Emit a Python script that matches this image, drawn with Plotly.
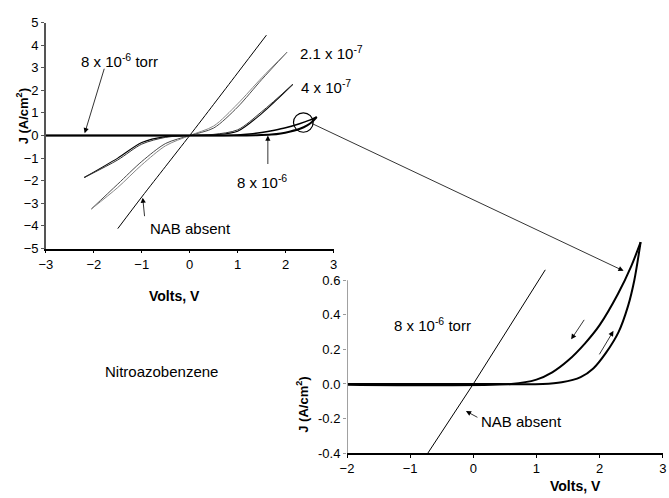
import plotly.graph_objects as go

# ---------------- data ----------------
# main panel
nab_v = [-1.5, -1.0, -0.5, 0.0, 0.5, 1.0, 1.6]
nab_j = [-4.12, -2.72, -1.36, 0.0, 1.38, 2.77, 4.44]

p21_v = [-2.05, -1.5, -1.0, -0.5, 0.0, 0.5, 1.0, 1.5, 2.03]
p21_j_fwd = [-3.25, -2.15, -1.15, -0.35, 0.0, 0.33, 1.26, 2.47, 3.69]
p21_j_rev = [-3.25, -2.30, -1.30, -0.45, 0.0, 0.42, 1.40, 2.55, 3.69]

p4_v = [-2.2, -1.5, -1.0, -0.5, 0.0, 0.5, 1.0, 1.5, 2.15]
p4_j_fwd = [-1.86, -1.00, -0.31, -0.05, 0.0, 0.03, 0.19, 0.97, 2.26]
p4_j_rev = [-1.86, -1.08, -0.38, -0.08, 0.0, 0.05, 0.25, 1.05, 2.26]

# 8e-6 torr sweep (forward = lower branch, reverse = upper branch)
p8_v_fwd = [-3.0, 0.0, 1.1, 1.4, 1.7, 1.9, 2.1, 2.3, 2.45, 2.55, 2.65]
p8_j_fwd = [0.0, 0.0, 0.0, 0.01, 0.04, 0.09, 0.18, 0.30, 0.45, 0.60, 0.82]
p8_v_rev = [2.65, 2.5, 2.29, 2.0, 1.77, 1.5, 1.25, 1.0, 0.6, -3.0]
p8_j_rev = [0.82, 0.68, 0.52, 0.34, 0.235, 0.135, 0.067, 0.025, 0.0, 0.0]

# inset panel
inset_nab_v = [-0.72, 0.0, 1.14]
inset_nab_j = [-0.40, 0.0, 0.66]

main_xticks = [-3, -2, -1, 0, 1, 2, 3]
main_yticks = [-5, -4, -3, -2, -1, 0, 1, 2, 3, 4, 5]
inset_xticks = [-2, -1, 0, 1, 2, 3]
inset_yticks = [-0.4, -0.2, 0.0, 0.2, 0.4, 0.6]
inset_yticktext = ["-0.4", "-0.2", "0.0", "0.2", "0.4", "0.6"]

# ---------------- figure ----------------
W, H = 669, 498
FONT = "Liberation Sans, Arial, sans-serif"


def px(x):
    return x / W


def py(y):
    return 1 - y / H


fig = go.Figure()

spline = dict(shape="spline", smoothing=0.8)

# main panel traces
fig.add_trace(go.Scatter(x=nab_v, y=nab_j, mode="lines", xaxis="x", yaxis="y",
                         line=dict(color="black", width=1, **spline)))
fig.add_trace(go.Scatter(x=p21_v, y=p21_j_fwd, mode="lines", xaxis="x", yaxis="y",
                         line=dict(color="#4a4a4a", width=1, **spline)))
fig.add_trace(go.Scatter(x=p21_v, y=p21_j_rev, mode="lines", xaxis="x", yaxis="y",
                         line=dict(color="#888", width=1, **spline)))
fig.add_trace(go.Scatter(x=p4_v, y=p4_j_fwd, mode="lines", xaxis="x", yaxis="y",
                         line=dict(color="black", width=1.1, **spline)))
fig.add_trace(go.Scatter(x=p4_v, y=p4_j_rev, mode="lines", xaxis="x", yaxis="y",
                         line=dict(color="#333", width=1, **spline)))
fig.add_trace(go.Scatter(x=p8_v_fwd, y=p8_j_fwd, mode="lines", xaxis="x", yaxis="y",
                         line=dict(color="black", width=2, **spline)))
fig.add_trace(go.Scatter(x=p8_v_rev, y=p8_j_rev, mode="lines", xaxis="x", yaxis="y",
                         line=dict(color="black", width=1.5, **spline)))

# inset traces
fig.add_trace(go.Scatter(x=inset_nab_v, y=inset_nab_j, mode="lines", xaxis="x2", yaxis="y2",
                         line=dict(color="black", width=1)))
fig.add_trace(go.Scatter(x=p8_v_fwd, y=p8_j_fwd, mode="lines", xaxis="x2", yaxis="y2",
                         line=dict(color="black", width=2, **spline)))
fig.add_trace(go.Scatter(x=p8_v_rev, y=p8_j_rev, mode="lines", xaxis="x2", yaxis="y2",
                         line=dict(color="black", width=2, **spline)))

tickfont = dict(family=FONT, size=13, color="black")

fig.update_layout(
    width=W, height=H,
    margin=dict(l=0, r=0, t=0, b=0),
    paper_bgcolor="white", plot_bgcolor="white",
    showlegend=False,
    font=dict(family=FONT, color="black"),
    xaxis=dict(domain=[px(39.5), px(332)], range=[-3, 3], tickvals=main_xticks,
               showline=True, linecolor="black", linewidth=1.5, ticks="outside",
               ticklen=3, tickcolor="black", showgrid=False, zeroline=False,
               tickfont=tickfont, anchor="y"),
    yaxis=dict(domain=[py(249), py(16)], range=[-5, 5], tickvals=main_yticks,
               showline=True, linecolor="#555", linewidth=1.5, ticks="outside",
               ticklen=3, tickcolor="#555", showgrid=False, zeroline=False,
               tickfont=tickfont, anchor="x", ticklabelstandoff=0),
    xaxis2=dict(domain=[px(345.7), px(666.7)], range=[-2, 3], tickvals=inset_xticks,
                showline=True, linecolor="black", linewidth=1.5, ticks="outside",
                ticklen=3, tickcolor="black", showgrid=False, zeroline=False,
                tickfont=tickfont, anchor="y2"),
    yaxis2=dict(domain=[py(460), py(237.1)], range=[-0.4, 0.85], tickvals=inset_yticks,
                ticktext=inset_yticktext, showline=False, ticks="outside",
                ticklen=3, tickcolor="#999", showgrid=False, zeroline=False,
                tickfont=tickfont, anchor="x2"),
)

# inset y axis line only up to 0.6
fig.add_shape(type="line", xref="x2", yref="y2", x0=-2, x1=-2, y0=-0.4, y1=0.6,
              line=dict(color="#a0a0a0", width=2))

# magnifier circle on main panel
fig.add_shape(type="circle", xref="x", yref="y", x0=2.165, x1=2.575, y0=0.145, y1=1.005,
              line=dict(color="black", width=1.2))

txt = dict(family=FONT, size=15, color="black")
bold = dict(family=FONT, size=14, color="black", weight="bold")
bold_y = dict(family=FONT, size=13, color="black", weight="bold")

texts = [
    ("8 x 10<sup>-6</sup> torr", 73, 55),
    ("2.1 x 10<sup>-7</sup>", 296, 47),
    ("4 x 10<sup>-7</sup>", 297, 82),
    ("8 x 10<sup>-6</sup>", 232, 180),
    ("NAB absent", 143, 228),
    ("Nitroazobenzene", 98, 376),
    ("8 x 10<sup>-6</sup> torr", 391, 327),
    ("NAB absent", 480, 427),
]
for t, x, y in texts:
    fig.add_annotation(text=t, x=px(x), y=py(y), xref="paper", yref="paper",
                       xanchor="left", yanchor="middle", showarrow=False, font=txt)

# axis titles
fig.add_annotation(text="Volts, V", x=px(170), y=py(298), xref="paper", yref="paper",
                   showarrow=False, font=bold, xanchor="center", yanchor="middle")
fig.add_annotation(text="J (A/cm<sup>2</sup>)", x=px(15), y=py(113), xref="paper", yref="paper",
                   showarrow=False, font=bold_y, textangle=-90, xanchor="center", yanchor="middle")
fig.add_annotation(text="Volts, V", x=px(578), y=py(494), xref="paper", yref="paper",
                   showarrow=False, font=bold, xanchor="center", yanchor="middle")
fig.add_annotation(text="J (A/cm<sup>2</sup>)", x=px(300), y=py(410), xref="paper", yref="paper",
                   showarrow=False, font=bold_y, textangle=-90, xanchor="center", yanchor="middle")

# arrows: (xref, yref, tip x, tip y, tail dx px, tail dy px)
arrows = [
    ("x", "y", -2.19, 0.1, 20, -66),
    ("x", "y", 1.63, 0.0, 0, 30),
    ("x", "y", -0.98, -2.75, 2, 20),
    ("x2", "y2", 2.38, 0.654, -313, -148),
    ("x2", "y2", -0.117, -0.157, 13, 7),
    ("x2", "y2", 1.55, 0.258, 14, -21),
    ("x2", "y2", 2.22, 0.307, -15, 25),
]
for xr, yr, x, y, dx, dy in arrows:
    fig.add_annotation(text="", x=x, y=y, xref=xr, yref=yr, ax=dx, ay=dy,
                       showarrow=True, arrowhead=2, arrowsize=1.3, arrowwidth=0.8,
                       arrowcolor="black", standoff=0)

fig.write_html("out.html")
